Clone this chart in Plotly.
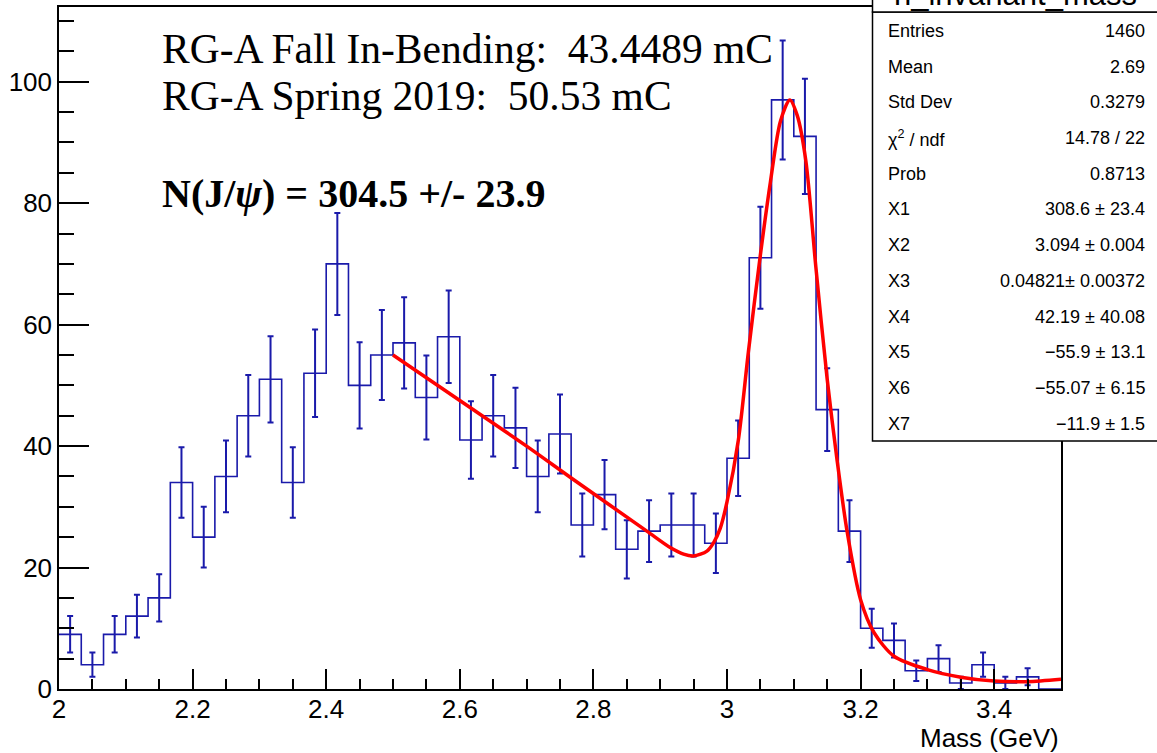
import numpy as np
import plotly.graph_objects as go

# ---------------- data ----------------
# histogram definition (45 bins from 2.0 to 3.5 GeV)
n_bins = 45
x_min, x_max = 2.0, 3.5

counts = [9, 4, 9, 12, 15, 34, 25, 35, 45, 51, 34, 52, 70, 50, 55,
          57, 48, 58, 41, 45, 43, 35, 42, 27, 32, 23, 26, 27, 27, 24,
          38, 71, 97, 91, 46, 26, 10, 8, 3, 5, 1, 4, 1, 2, 0]

count_errors = [3.0, 2.0, 3.0, 3.5, 3.9, 5.8, 5.0, 5.9, 6.7, 7.1, 5.8, 7.2, 8.4, 7.1, 7.4,
                7.5, 6.9, 7.6, 6.4, 6.7, 6.6, 5.9, 6.5, 5.2, 5.7, 4.8, 5.1, 5.2, 5.2, 4.9,
                6.2, 8.4, 9.8, 9.5, 6.8, 5.1, 3.2, 2.8, 1.7, 2.2, 1.0, 2.0, 1.0, 1.4, 0.0]

# fitted curve
fit_x = [2.50, 2.60, 2.70, 2.77, 2.88, 2.915, 2.935, 2.95, 2.97, 2.98, 2.99, 3.00,
         3.017, 3.032, 3.05, 3.065, 3.08, 3.094, 3.105, 3.118, 3.133, 3.15, 3.165,
         3.18, 3.20, 3.22, 3.25, 3.30, 3.35, 3.40, 3.45, 3.50]
fit_y = [55.0, 47.5, 40.0, 34.5, 26.0, 23.3, 22.2, 21.9, 22.7, 24.1, 26.5, 30.8,
         41.0, 55.5, 71.5, 83.5, 93.5, 97.0, 94.5, 87.0, 69.5, 51.0, 37.5,
         25.8, 14.7, 9.3, 5.4, 3.2, 1.95, 1.3, 1.2, 1.6]

stat_title = "h_invariant_mass"
stat_labels = ["Entries", "Mean", "Std Dev", "χ<sup>2</sup> / ndf", "Prob",
               "X1", "X2", "X3", "X4", "X5", "X6", "X7"]
stat_values = ["1460", "2.69", "0.3279", "14.78 / 22", "0.8713",
               "308.6 ± 23.4", "3.094 ± 0.004", "0.04821± 0.00372",
               "42.19 ± 40.08", "−55.9 ± 13.1", "−55.07 ± 6.15", "−11.9 ± 1.5"]

text_line1 = "RG-A Fall In-Bending:\u00a0 43.4489 mC"
text_line2 = "RG-A Spring 2019:\u00a0 50.53 mC"
text_line3 = "<b>N(J/<i>ψ</i>) = 304.5 +/- 23.9</b>"
x_title = "Mass (GeV)"

# ---------------- layout helpers ----------------
W, H = 1157, 753
L, R, T, B = 59, 96, 7, 64
PW, PH = W - L - R, H - T - B


def px(xp):
    return (xp - L) / PW


def py(yp):
    return (H - B - yp) / PH


edges = np.linspace(x_min, x_max, n_bins + 1)
centers = 0.5 * (edges[:-1] + edges[1:])

blue = "#1a1aaa"

fig = go.Figure()

# histogram outline
fig.add_trace(go.Scatter(
    x=list(edges), y=counts + [counts[-1]],
    mode="lines", line=dict(shape="hv", color=blue, width=1.6),
    hoverinfo="skip", showlegend=False))

# error bars (skip empty bins)
ex = [c for c, n in zip(centers, counts) if n > 0]
ey = [n for n in counts if n > 0]
ee = [e for e, n in zip(count_errors, counts) if n > 0]
fig.add_trace(go.Scatter(
    x=ex, y=ey, mode="markers",
    marker=dict(size=1, color=blue, opacity=0),
    error_y=dict(type="data", array=ee, visible=True, color=blue, thickness=2, width=3),
    hoverinfo="skip", showlegend=False))

# fit
fig.add_trace(go.Scatter(
    x=fit_x, y=fit_y, mode="lines",
    line=dict(color="#ff0000", width=3.5, shape="spline", smoothing=0.8),
    hoverinfo="skip", showlegend=False))

axis_font = dict(family="Liberation Sans, Arial, sans-serif", size=26, color="black")

fig.update_xaxes(
    range=[x_min, x_max], tick0=2, dtick=0.2,
    ticks="inside", ticklen=20, tickwidth=1.5, tickcolor="black",
    minor=dict(ticks="inside", ticklen=10, dtick=0.05, tickwidth=1.5, tickcolor="black"),
    showline=True, linewidth=1.5, linecolor="black", mirror=True,
    showgrid=False, zeroline=False, tickfont=axis_font, ticklabelstandoff=-4)
fig.update_yaxes(
    range=[0, 112.3], tick0=0, dtick=20,
    ticks="inside", ticklen=30, tickwidth=1.5, tickcolor="black",
    minor=dict(ticks="inside", ticklen=15, dtick=5, tickwidth=1.5, tickcolor="black"),
    showline=True, linewidth=1.5, linecolor="black", mirror=True,
    showgrid=False, zeroline=False, tickfont=axis_font)

shapes = [
    dict(type="rect", xref="paper", yref="paper", layer="above",
         x0=px(872.5), x1=px(1165), y0=py(441), y1=py(12),
         fillcolor="white", line=dict(color="black", width=1.5)),
    dict(type="rect", xref="paper", yref="paper", layer="above",
         x0=px(872.5), x1=px(1165), y0=py(12), y1=py(-40),
         fillcolor="white", line=dict(color="black", width=1.5)),
]

annotations = []
stat_font = dict(family="Liberation Sans, Arial, sans-serif", size=18, color="black")
for i, (lab, val) in enumerate(zip(stat_labels, stat_values)):
    yc = 31 + 35.7 * i
    annotations.append(dict(xref="paper", yref="paper", x=px(886), y=py(yc),
                            xanchor="left", yanchor="middle", text=lab,
                            showarrow=False, font=stat_font))
    annotations.append(dict(xref="paper", yref="paper", x=px(1147), y=py(yc),
                            xanchor="right", yanchor="middle", text=val,
                            showarrow=False, font=stat_font))
annotations.append(dict(xref="paper", yref="paper", x=px(892), y=py(-6),
                        xanchor="left", yanchor="middle", text=stat_title,
                        showarrow=False,
                        font=dict(family="Liberation Sans, Arial, sans-serif", size=31, color="black")))

serif = dict(family="Liberation Serif, Times New Roman, serif", size=41.5, color="black")
serif_b = dict(family="Liberation Serif, Times New Roman, serif", size=40, color="black")
for txt, yc, f in [(text_line1, 49, serif), (text_line2, 96, serif), (text_line3, 193, serif_b)]:
    annotations.append(dict(xref="paper", yref="paper", x=px(160), y=py(yc),
                            xanchor="left", yanchor="middle", text=txt,
                            showarrow=False, font=f))

annotations.append(dict(xref="paper", yref="paper", x=px(1061), y=py(738),
                        xanchor="right", yanchor="middle", text=x_title,
                        showarrow=False, font=axis_font))

fig.update_layout(
    width=W, height=H,
    margin=dict(l=L, r=R, t=T, b=B, autoexpand=False),
    paper_bgcolor="white", plot_bgcolor="white",
    shapes=shapes, annotations=annotations, showlegend=False)

fig.write_html("out.html")
